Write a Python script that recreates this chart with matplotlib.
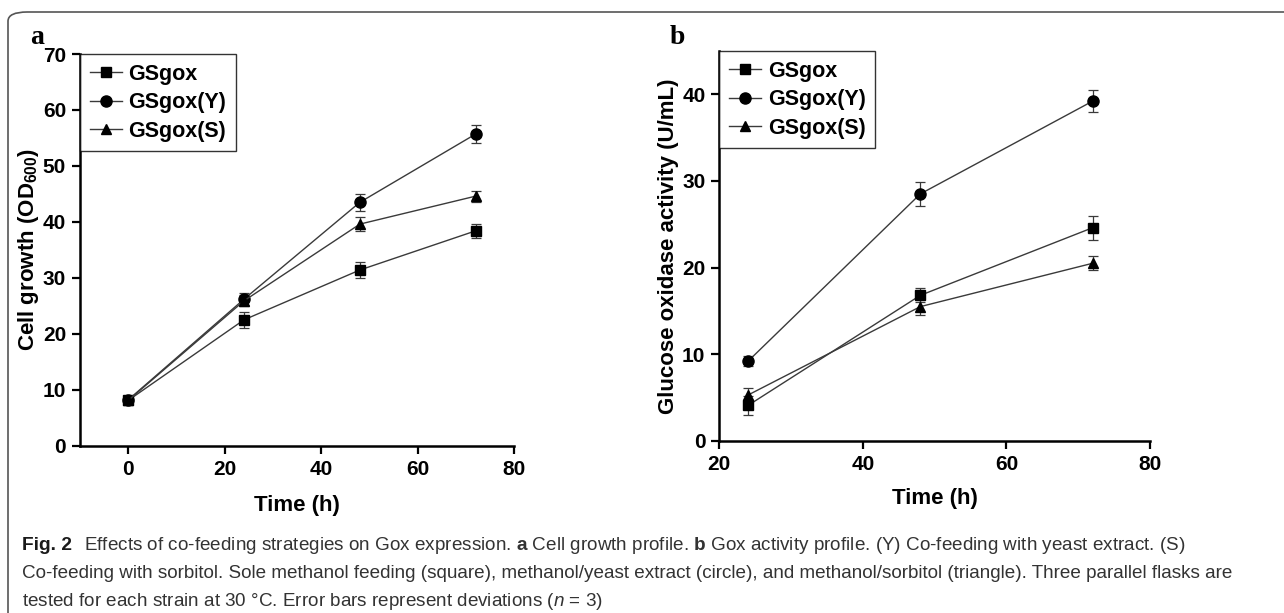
import numpy as np
import matplotlib.pyplot as plt
from matplotlib.patches import FancyBboxPatch

# panel a: cell growth (OD600)
t_a = [0, 24, 48, 72]
od_gsgox = [8.1, 22.5, 31.4, 38.4]
od_gsgox_y = [8.2, 26.2, 43.5, 55.7]
od_gsgox_s = [8.1, 25.9, 39.6, 44.6]
od_err = [0.5, 1.4, 1.4, 1.3]
od_err_y = [0.5, 1.0, 1.5, 1.6]
od_err_s = [0.5, 1.0, 1.2, 1.0]

# panel b: glucose oxidase activity (U/mL)
t_b = [24, 48, 72]
gox_gsgox = [4.1, 16.8, 24.6]
gox_gsgox_y = [9.2, 28.5, 39.2]
gox_gsgox_s = [5.3, 15.5, 20.5]
gox_err = [1.1, 0.8, 1.4]
gox_err_y = [0.6, 1.4, 1.3]
gox_err_s = [0.8, 1.0, 0.8]

names = ['GSgox', 'GSgox(Y)', 'GSgox(S)']
markers = ['s', 'o', '^']
msizes = [6.5, 8, 7.5]

plt.rcParams['font.family'] = ['Liberation Sans', 'DejaVu Sans']
plt.rcParams['mathtext.fontset'] = 'custom'
plt.rcParams['mathtext.rm'] = 'Liberation Sans'
plt.rcParams['mathtext.bf'] = 'Liberation Sans:bold'
plt.rcParams['mathtext.it'] = 'Liberation Sans:italic'

fig = plt.figure(figsize=(12.84, 6.13), dpi=100)

# rounded frame round the whole figure
frame = FancyBboxPatch((8/1284, 1 - 640/613), 1300/1284, 628/613,
                       boxstyle="round,pad=0,rounding_size=0.015",
                       transform=fig.transFigure, fill=False,
                       edgecolor='#555555', linewidth=1.2)
fig.patches.append(frame)

ax1 = fig.add_axes([80/1284, 1 - 445.7/613, (514.3 - 80)/1284, (445.7 - 54)/613])
ax2 = fig.add_axes([719.3/1284, 1 - 441/613, (1150 - 719.3)/1284, (441 - 50.9)/613])


def draw(ax, t, ys, errs):
    handles = []
    for y, e, m, s, n in zip(ys, errs, markers, msizes, names):
        c = ax.errorbar(t, y, yerr=e, marker=m, color='#3a3a3a', mfc='black', mec='black',
                        ms=s, lw=1.0, elinewidth=0.9, ecolor='#3a3a3a',
                        capsize=3.5, capthick=0.9, label=n)
        handles.append(c[0])
    for sp in ['top', 'right']:
        ax.spines[sp].set_visible(False)
    for sp in ['left', 'bottom']:
        ax.spines[sp].set_linewidth(1.8)
    ax.tick_params(direction='out', length=6, width=1.6, labelsize=15, pad=4)
    leg = ax.legend(handles, names, loc='upper left', bbox_to_anchor=(0.0, 1.0), frameon=True,
                    fancybox=False, edgecolor='black', borderaxespad=0,
                    prop={'weight': 'bold', 'size': 15.5}, handlelength=1.5,
                    handletextpad=0.3, labelspacing=0.35, borderpad=0.45)
    leg.get_frame().set_linewidth(1.0)


draw(ax1, t_a, [od_gsgox, od_gsgox_y, od_gsgox_s], [od_err, od_err_y, od_err_s])
ax1.set_xlim(-10, 80)
ax1.set_ylim(0, 70)
ax1.set_xticks([0, 20, 40, 60, 80])
ax1.set_yticks(np.arange(0, 71, 10))
for lab in ax1.get_xticklabels() + ax1.get_yticklabels():
    lab.set_fontweight('bold')
ax1.set_ylabel('Cell growth (OD$_{\\mathbf{600}}$)', fontsize=16, fontweight='bold', labelpad=1)
ax1.set_xlabel('Time (h)', fontsize=16, fontweight='bold', labelpad=12)

draw(ax2, t_b, [gox_gsgox, gox_gsgox_y, gox_gsgox_s], [gox_err, gox_err_y, gox_err_s])
ax2.set_xlim(20, 80)
ax2.set_ylim(0, 45)
ax2.set_xticks([20, 40, 60, 80])
ax2.set_yticks([0, 10, 20, 30, 40])
for lab in ax2.get_xticklabels() + ax2.get_yticklabels():
    lab.set_fontweight('bold')
ax2.set_ylabel('Glucose oxidase activity (U/mL)', fontsize=16, fontweight='bold', labelpad=2)
ax2.set_xlabel('Time (h)', fontsize=16, fontweight='bold', labelpad=10)

fig.text(37/1284, 1 - 38/613, 'a', fontsize=20, fontweight='bold', family='Liberation Serif',
         ha='center', va='center')
fig.text(677/1284, 1 - 38/613, 'b', fontsize=20, fontweight='bold', family='Liberation Serif',
         ha='center', va='center')

fig.text(22/1284, 1 - 545/613, 'Fig. 2', fontsize=13.8, fontweight='bold',
         color='#1a1a1a', va='center')
fig.text(84/1284, 1 - 545/613,
         'Effects of co-feeding strategies on Gox expression. $\\mathbf{a}$ Cell growth profile. '
         '$\\mathbf{b}$ Gox activity profile. (Y) Co-feeding with yeast extract. (S)',
         fontsize=13.6, color='#333333', va='center')
fig.text(22/1284, 1 - 574/613,
         'Co-feeding with sorbitol. Sole methanol feeding (square), methanol/yeast extract (circle), '
         'and methanol/sorbitol (triangle). Three parallel flasks are',
         fontsize=13.6, color='#333333', va='center')
fig.text(22/1284, 1 - 601/613,
         'tested for each strain at 30 \u00b0C. Error bars represent deviations ($n$ = 3)',
         fontsize=13.6, color='#333333', va='center')

fig.savefig('out.png', dpi=100)
